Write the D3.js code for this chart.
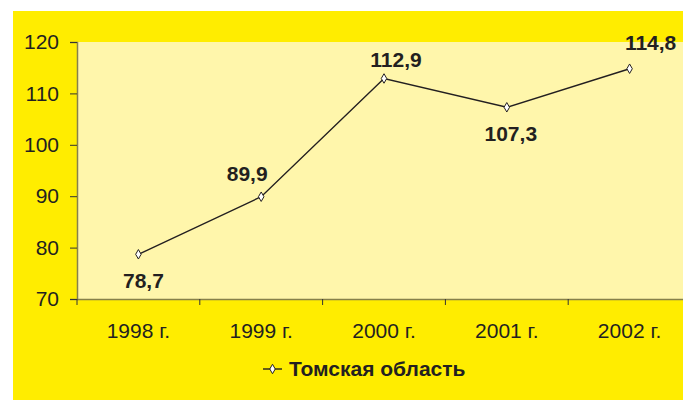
<!DOCTYPE html>
<html>
<head>
<meta charset="utf-8">
<script src="https://cdnjs.cloudflare.com/ajax/libs/d3/7.8.5/d3.min.js"></script>
<style>
  body { margin: 0; background: #fff; }
  svg { display: block; font-family: 'Liberation Sans', Arial, sans-serif; }
</style>
</head>
<body>
<svg width="683" height="400"></svg>
<script>
const years = ['1998 г.', '1999 г.', '2000 г.', '2001 г.', '2002 г.']
const values = [78.7, 89.9, 112.9, 107.3, 114.8]
const labels = ['78,7', '89,9', '112,9', '107,3', '114,8']
const yTicks = [70, 80, 90, 100, 110, 120]
const seriesName = 'Томская область'

const width = 683
const height = 400
const margin = { top: 42, right: -8, bottom: 101, left: 77 }

// label placement, tuned by eye
const labelShift = [[5, 34], [-14, -16], [12, -11], [4, 34], [21, -19]]

const svg = d3.select('svg')

svg.append('rect')
  .attr('x', 13)
  .attr('y', 11)
  .attr('width', width - 13)
  .attr('height', height - 11)
  .attr('fill', '#ffed00')

const xScale = d3.scaleBand()
  .domain(years)
  .range([margin.left, width - margin.right])

const yScale = d3.scaleLinear()
  .domain([70, 120])
  .range([height - margin.bottom, margin.top])

svg.append('rect')
  .attr('x', margin.left)
  .attr('y', margin.top)
  .attr('width', width - margin.right - margin.left)
  .attr('height', height - margin.bottom - margin.top)
  .attr('fill', '#fff6ab')

// axes
const yAxis = d3.axisLeft(yScale)
  .tickValues(yTicks)
  .tickSize(7)
  .tickPadding(11)

const gy = svg.append('g')
  .attr('transform', `translate(${margin.left},0)`)
  .call(yAxis)

const xAxis = d3.axisBottom(xScale)
  .tickSize(0)
  .tickPadding(24)

const gx = svg.append('g')
  .attr('transform', `translate(0,${height - margin.bottom})`)
  .call(xAxis)

// category boundary ticks
gx.selectAll('.bound')
  .data(years)
  .enter().append('line')
  .attr('x1', d => xScale(d))
  .attr('x2', d => xScale(d))
  .attr('y1', 0)
  .attr('y2', 6)
  .attr('stroke', '#333')

svg.selectAll('.domain')
  .attr('stroke', '#86804a')
  .attr('stroke-width', 1.5)
gy.selectAll('.tick line').attr('stroke', '#333')
svg.selectAll('.tick text')
  .attr('fill', '#231f20')
  .attr('font-size', 21)
  .attr('font-family', "'Liberation Sans', Arial, sans-serif")

// line
const cx = d => xScale.bandwidth() / 2 + xScale(d)
const line = d3.line()
  .x((d, i) => cx(years[i]))
  .y(d => yScale(d))

svg.append('path')
  .datum(values)
  .attr('d', line)
  .attr('fill', 'none')
  .attr('stroke', '#231f20')
  .attr('stroke-width', 1.4)

const diamond = d3.symbol().type(d3.symbolDiamond).size(26)

svg.selectAll('.pt')
  .data(values)
  .enter().append('path')
  .attr('d', diamond)
  .attr('transform', (d, i) => `translate(${cx(years[i])},${yScale(d)})`)
  .attr('fill', '#fff')
  .attr('stroke', '#231f20')
  .attr('stroke-width', 1)

svg.selectAll('.lbl')
  .data(values)
  .enter().append('text')
  .text((d, i) => labels[i])
  .attr('x', (d, i) => cx(years[i]) + labelShift[i][0])
  .attr('y', (d, i) => yScale(d) + labelShift[i][1])
  .attr('text-anchor', 'middle')
  .attr('font-size', 21)
  .attr('font-weight', 'bold')
  .attr('fill', '#231f20')

// legend
const legend = svg.append('g')
  .attr('transform', 'translate(263,369)')

legend.append('line')
  .attr('x1', 0)
  .attr('x2', 19)
  .attr('stroke', '#231f20')
  .attr('stroke-width', 1.4)

legend.append('path')
  .attr('d', diamond)
  .attr('transform', 'translate(9.5,0)')
  .attr('fill', '#fff')
  .attr('stroke', '#231f20')

legend.append('text')
  .text(seriesName)
  .attr('x', 26)
  .attr('y', 7)
  .attr('font-size', 21)
  .attr('font-weight', 'bold')
  .attr('fill', '#231f20')
</script>
</body>
</html>
